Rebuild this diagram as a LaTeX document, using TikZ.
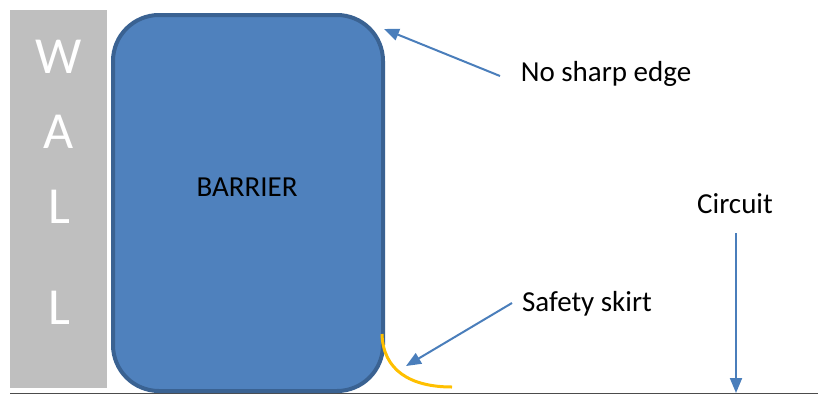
\documentclass[tikz,border=0pt]{standalone}
\usepackage{fontspec}
\setmainfont{Carlito}
\usetikzlibrary{arrows.meta}
\definecolor{wallgray}{HTML}{BFBFBF}
\definecolor{barfill}{HTML}{4F81BD}
\definecolor{bardraw}{HTML}{3A6292}
\definecolor{arrowblue}{HTML}{4A7EBB}
\definecolor{skirt}{HTML}{FFC000}
\begin{document}
\begin{tikzpicture}[x=1pt,y=-1pt,
  lbl/.style={font=\fontsize{29}{31}\selectfont, text=black, inner sep=0pt},
  wallletter/.style={font=\fontsize{52}{54}\selectfont, text=white, inner sep=0pt},
  callout/.style={draw=arrowblue, line width=2pt, -{Triangle[length=15pt,width=12pt]}}]
\useasboundingbox (0,0) rectangle (818,394);
% ground line
\draw[gray!60!black, line width=1pt] (10,393) -- (818,393);
% wall
\node[fill=wallgray, minimum width=97pt, minimum height=378pt, inner sep=0pt, anchor=north west] (wall) at (10,10) {};
\node[wallletter] (w1) at (59,57) {W};
\node[wallletter] (w2) at (59,132) {A};
\node[wallletter] (w3) at (59,207) {L};
\node[wallletter] (w4) at (59,308) {L};
% barrier
\node[draw=bardraw, fill=barfill, line width=4pt, rounded corners=46pt, minimum width=270pt, minimum height=376pt, inner sep=0pt, anchor=north west] (barrier) at (111,13) {};
\node[lbl] (bartxt) at (247,187) {BARRIER};
% skirt
\draw[skirt, line width=3pt] (382,334) .. controls (383,370) and (410,387) .. (452,387);
\coordinate (skirtpt) at (406,366);
\coordinate (edgept) at (384,29);
\coordinate (groundpt) at (736,393);
% labels
\node[lbl] (nosharp) at (606,74) {No sharp edge};
\node[lbl] (safety) at (587,304) {Safety skirt};
\node[lbl] (circuit) at (735,204) {Circuit};
% arrows
\coordinate (a1s) at (500,76);
\coordinate (a2s) at (512,303);
\coordinate (a3s) at (736,233);
\draw[callout] (a1s) -- (edgept);
\draw[callout] (a2s) -- (skirtpt);
\draw[callout] (a3s) -- (groundpt);
\end{tikzpicture}
\end{document}
